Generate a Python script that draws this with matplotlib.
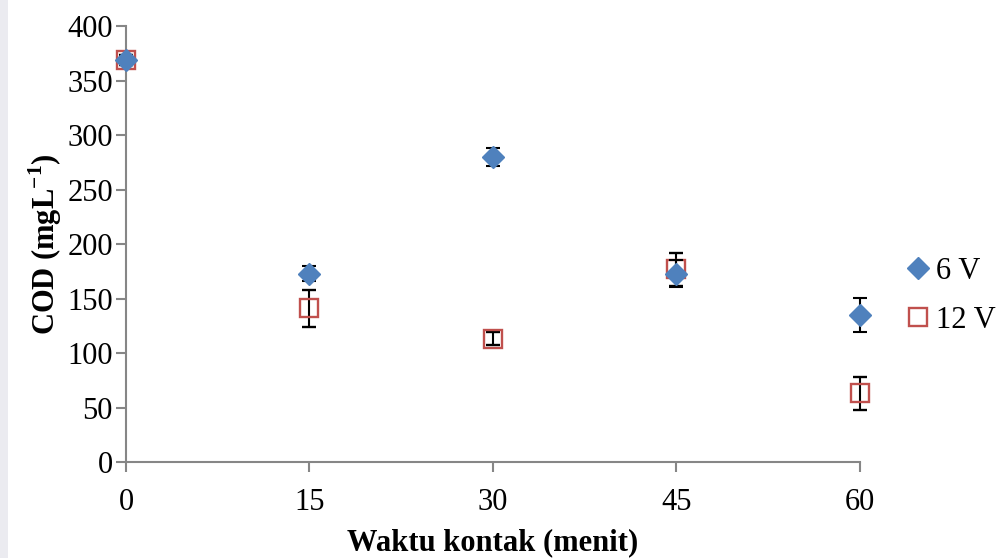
import matplotlib
matplotlib.use("Agg")
import matplotlib.pyplot as plt
from matplotlib.patches import Rectangle

# COD over contact time for two voltages
time_min = [0, 15, 30, 45, 60]
cod_6v = [369, 173, 280, 173, 135]
err_6v = [5, 7, 8, 12, 16]
cod_12v = [369, 141, 113, 177, 63]
err_12v = [5, 17, 6, 15, 15]

plt.rcParams["font.family"] = ["Liberation Serif", "DejaVu Serif"]
plt.rcParams["mathtext.fontset"] = "custom"
plt.rcParams["mathtext.rm"] = "Liberation Serif"
plt.rcParams["mathtext.bf"] = "Liberation Serif:bold"


def main():
    fig = plt.figure(figsize=(10.08, 5.58), dpi=100)
    ax = fig.add_axes([0.125, 0.172, 0.728, 0.781])

    # faint strip along the left edge of the page
    fig.patches.append(Rectangle((0, 0), 0.008, 1, transform=fig.transFigure,
                                 facecolor="#ebebf0", edgecolor="none"))

    ax.errorbar(time_min, cod_12v, yerr=err_12v, fmt="s", markersize=13.5,
                markerfacecolor="none", markeredgecolor="#c0504d",
                markeredgewidth=1.7, ecolor="black", elinewidth=1.5,
                capsize=5, capthick=1.5, clip_on=False, label="12 V", zorder=3)
    ax.errorbar(time_min, cod_6v, yerr=err_6v, fmt="D", markersize=11,
                markerfacecolor="#4f81bd", markeredgecolor="#4f81bd",
                ecolor="black", elinewidth=1.5, capsize=5, capthick=1.5,
                clip_on=False, label="6 V", zorder=4)

    ax.set_xlim(0, 60)
    ax.set_ylim(0, 400)
    ax.set_xticks([0, 15, 30, 45, 60])
    ax.set_yticks(range(0, 401, 50))

    for side in ("top", "right"):
        ax.spines[side].set_visible(False)
    for side in ("left", "bottom"):
        ax.spines[side].set_color("#868686")
        ax.spines[side].set_linewidth(1.5)
    ax.tick_params(axis="both", direction="out", length=7, width=1.5,
                   color="#868686", labelsize=22)
    ax.tick_params(axis="x", pad=12)
    ax.tick_params(axis="y", pad=2.5)

    ax.set_xlabel("Waktu kontak (menit)", fontsize=22, fontweight="bold",
                  labelpad=8)
    ax.set_ylabel(r"COD (mgL$^{\mathbf{-1}}$)", fontsize=22,
                  fontweight="bold", labelpad=2)

    handles, labels = ax.get_legend_handles_labels()
    handles = [h[0] for h in handles[::-1]]
    fig.legend(handles, labels[::-1], loc="center left",
               bbox_to_anchor=(0.883, 0.47), frameon=False, fontsize=22,
               handletextpad=0.1, handlelength=1.0, labelspacing=0.65,
               borderaxespad=0)

    fig.savefig("out.png", dpi=100)
    plt.close(fig)


if __name__ == "__main__":
    main()
